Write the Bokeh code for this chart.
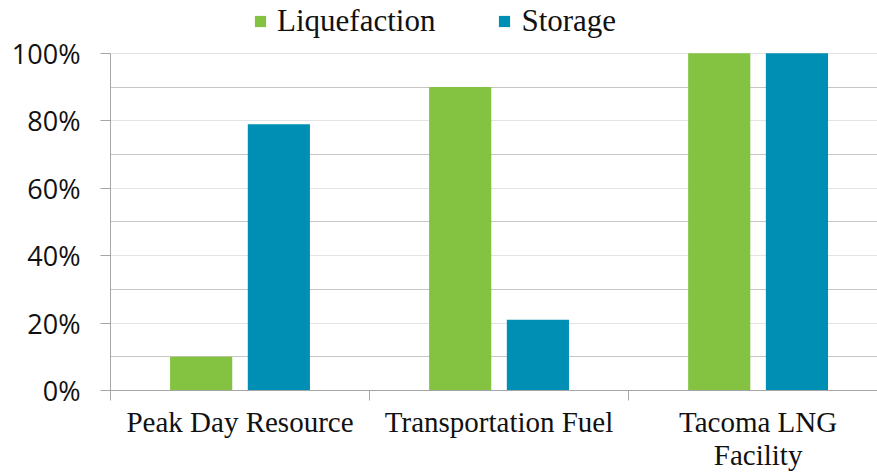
from bokeh.plotting import figure
from bokeh.models import (ColumnDataSource, Range1d, FixedTicker, Legend, LegendItem)
from bokeh.transform import dodge
from bokeh.embed import file_html
from bokeh.resources import INLINE

categories = ["Peak Day Resource", "Transportation Fuel", "Tacoma LNG\nFacility"]
liquefaction = [0.10, 0.90, 1.00]
storage = [0.79, 0.21, 1.00]
y_ticks = [0.0, 0.2, 0.4, 0.6, 0.8, 1.0]
y_tick_labels = ["0%", "20%", "40%", "60%", "80%", "100%"]
y_minor = [0.1, 0.3, 0.5, 0.7, 0.9]

GREEN = "#84C341"
BLUE = "#008FB4"

centers = [i + 0.5 for i in range(len(categories))]
bounds = [float(i) for i in range(len(categories) + 1)]
src = ColumnDataSource(dict(x=centers, liq=liquefaction, sto=storage))

# frame runs to the top edge; headroom above 100% holds the legend
p = figure(width=877, height=474, output_backend="svg",
           toolbar_location=None, x_range=Range1d(0, 2.961), y_range=Range1d(0, 1.1568),
           min_border_left=110, min_border_top=0, min_border_right=0, min_border_bottom=83)
p.outline_line_color = None
p.background_fill_color = "white"

r1 = p.vbar(x=dodge("x", -0.15, range=p.x_range), top="liq", width=0.24, bottom=0,
            source=src, fill_color=GREEN, line_color=None)
r2 = p.vbar(x=dodge("x", 0.15, range=p.x_range), top="sto", width=0.24, bottom=0,
            source=src, fill_color=BLUE, line_color=None)

# y axis
p.yaxis.ticker = FixedTicker(ticks=y_ticks, minor_ticks=y_minor)
p.yaxis.bounds = (0, 1)
p.yaxis.major_label_overrides = {t: l for t, l in zip(y_ticks, y_tick_labels)}
p.yaxis.major_label_text_font = "Open Sans"
p.yaxis.major_label_text_font_size = "27px"
p.yaxis.major_label_text_color = "#111111"
p.yaxis.major_tick_out = 10
p.yaxis.major_tick_in = 0
p.yaxis.minor_tick_line_color = None
p.yaxis.major_tick_line_color = "#a6a6a6"
p.yaxis.axis_line_color = "#a6a6a6"
p.yaxis.major_label_standoff = 20

# grid
p.xgrid.grid_line_color = None
p.ygrid.grid_line_color = "#e3e3e3"
p.ygrid.minor_grid_line_color = "#c6c6c6"

# x axis
p.xaxis.ticker = FixedTicker(ticks=centers, minor_ticks=bounds)
p.xaxis.major_label_overrides = {c: l for c, l in zip(centers, categories)}
p.xaxis.major_label_text_font = "Liberation Serif"
p.xaxis.major_label_text_font_size = "29px"
p.xaxis.major_label_text_color = "#111111"
p.xaxis.major_label_text_line_height = 1.05
p.xaxis.major_tick_line_color = None
p.xaxis.major_tick_out = 0
p.xaxis.major_tick_in = 0
p.xaxis.minor_tick_line_color = "#a6a6a6"
p.xaxis.minor_tick_out = 10
p.xaxis.minor_tick_in = 0
p.xaxis.axis_line_color = "#a6a6a6"
p.xaxis.major_label_standoff = 5

legend = Legend(items=[LegendItem(label="Liquefaction", renderers=[r1]),
                       LegendItem(label="Storage", renderers=[r2])],
                location=(143, 351), orientation="horizontal")
legend.label_text_font = "Liberation Serif"
legend.label_text_font_size = "31px"
legend.label_text_color = "#111111"
legend.glyph_width = 14
legend.glyph_height = 14
legend.label_standoff = 10
legend.spacing = 62
legend.padding = 0
legend.margin = 0
legend.border_line_color = None
legend.background_fill_alpha = 0
p.add_layout(legend, "center")

open("out.html", "w").write(file_html(p, INLINE))
